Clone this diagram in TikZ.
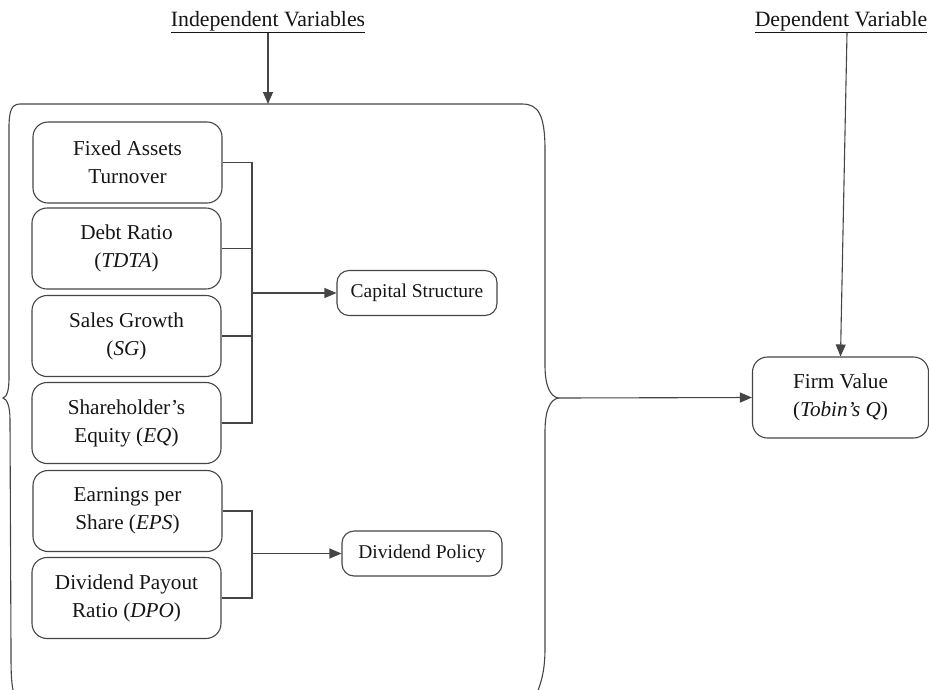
\documentclass[tikz,border=0pt]{standalone}
\usepackage{fontspec}
\setmainfont{Liberation Serif}
\usetikzlibrary{arrows.meta,calc}
\definecolor{ln}{HTML}{454545}
\definecolor{tx}{HTML}{151515}
\tikzset{
  varbox/.style={draw=ln,line width=1.1pt,rounded corners=15pt,minimum width=189pt,minimum height=81pt,align=center,text=tx,inner sep=0pt,font=\fontsize{21.2}{28}\selectfont},
  grpbox/.style={draw=ln,line width=1.1pt,rounded corners=12pt,minimum width=160pt,minimum height=45pt,align=center,text=tx,inner sep=0pt,font=\fontsize{19.5}{24}\selectfont},
  hdr/.style={text=tx,inner sep=0pt,font=\fontsize{21.8}{28}\selectfont},
  conn/.style={draw=ln,line width=1.1pt},
  arr/.style={conn,-{Triangle[length=12pt,width=10pt]}},
}
\begin{document}
\begin{tikzpicture}[x=1pt,y=-1pt]
\useasboundingbox (0,0) rectangle (929,689);
% brace-shaped frame
\begin{scope}
\clip (0,0) rectangle (929,689);
\draw[conn] (17,702) .. controls (11,690) and (11,675) .. (11,650) -- (10,420)
  .. controls (10,406) and (7,399) .. (3,398)
  .. controls (7,397) and (9,390) .. (9,378) -- (9,128)
  .. controls (9,112) and (11,104) .. (20,104) -- (522,104)
  .. controls (538,104) and (545,114) .. (545,150) -- (545,365)
  .. controls (545,386) and (550,396) .. (558,398)
  .. controls (550,400) and (545,410) .. (545,432) -- (545,648)
  .. controls (545,672) and (541,684) .. (534,700);
\end{scope}
\coordinate (bt) at (268,104);
\coordinate (tip) at (558,398);
% headers
\node[hdr] (iv) at (268,22) {\underline{Independent Variables}};
\node[hdr] (dv) at (841,22) {\underline{Dependent Variable}};
\coordinate (dvs) at (847,33);
% variable boxes
\node[varbox] (fa) at (127.5,162.5) {Fixed Assets\\Turnover};
\node[varbox] (dr) at (126.5,248.5) {Debt Ratio\\(\textit{TDTA})};
\node[varbox] (sg) at (126.5,336) {Sales Growth\\(\textit{SG})};
\node[varbox] (se) at (126.5,423) {Shareholder’s\\Equity (\textit{EQ})};
\node[varbox] (eps) at (127.5,511) {Earnings per\\Share (\textit{EPS})};
\node[varbox] (dpo) at (126.5,598) {Dividend Payout\\Ratio (\textit{DPO})};
% group boxes
\node[grpbox] (cs) at (417,293) {Capital Structure};
\node[grpbox] (dp) at (422,553.5) {Dividend Policy};
\node[varbox,minimum width=176pt] (fv) at (840.5,397.5) {Firm Value\\(\textit{Tobin’s Q})};
% bracket for capital structure
\coordinate (cj) at (252,293);
\draw[conn] (fa.east) -- (fa.east -| cj) -- (se.east -| cj) -- (se.east);
\draw[conn] (dr.east) -- (dr.east -| cj);
\draw[conn] (sg.east) -- (sg.east -| cj);
\draw[arr] (cj) -- (cs.west);
% bracket for dividend policy
\coordinate (dj) at (252,553.5);
\draw[conn] (eps.east) -- (eps.east -| dj) -- (dpo.east -| dj) -- (dpo.east);
\draw[arr] (dj) -- (dp.west);
% main arrows
\draw[arr] (iv.south) -- (bt);
\draw[arr] (dvs) -- (fv.north);
\draw[arr] (tip) -- (fv.west);
\end{tikzpicture}
\end{document}
